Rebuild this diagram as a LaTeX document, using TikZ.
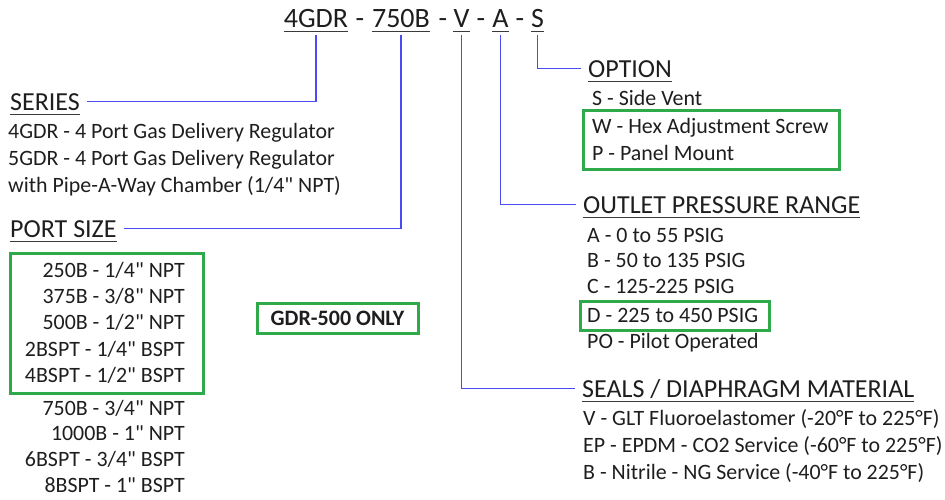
\documentclass[tikz,border=0pt]{standalone}
\usepackage{fontspec}
\setmainfont{Carlito}[Ligatures=TeXOff]
\definecolor{conn}{HTML}{4B4BF5}
\definecolor{grn}{HTML}{2EAA4A}
\definecolor{txt}{HTML}{1E1E1E}
\definecolor{ulc}{HTML}{3A3A3A}
\begin{document}
\begin{tikzpicture}[x=1pt,y=-1pt,
  every node/.style={text=txt},
  titlepart/.style={inner sep=0pt,anchor=base,text depth=0pt,font=\fontsize{28}{30}\selectfont},
  header/.style={inner xsep=7pt,inner ysep=0pt,anchor=base west,text height=17pt,text depth=0pt,font=\fontsize{26}{30}\selectfont},
  item/.style={inner sep=0pt,anchor=base west,font=\fontsize{21.9}{24}\selectfont},
  ritem/.style={item,anchor=base east},
  conn/.style={draw=conn,line width=1.6pt},
  ulline/.style={draw=ulc,line width=1.4pt},
  gbox/.style={draw=grn,line width=3pt}]
\useasboundingbox (0,0) rectangle (945,499);
% title
\node[titlepart] (tgdr) at (316,27) {4GDR};
\node[titlepart] (d1) at (360,27) {-};
\node[titlepart] (tsize) at (401,27) {750B};
\node[titlepart] (d2) at (443,27) {-};
\node[titlepart] (tseal) at (461.5,27) {V};
\node[titlepart] (d3) at (481,27) {-};
\node[titlepart] (trange) at (500.5,27) {A};
\node[titlepart] (d4) at (520,27) {-};
\node[titlepart] (topt) at (537.5,27) {S};
\foreach \n in {tgdr,tsize,tseal,trange,topt}
  \draw[ulline] ([yshift=-4.5pt]\n.south west) -- ([yshift=-4.5pt]\n.south east);
% headers
\node[header] (series) at (3,110) {SERIES};
\node[header] (portsize) at (3,237) {PORT SIZE};
\node[header] (option) at (581,77) {OPTION};
\node[header] (outlet) at (576,213) {OUTLET PRESSURE RANGE};
\node[header] (seals) at (575,397) {SEALS / DIAPHRAGM MATERIAL};
\foreach \n in {series,portsize,option,outlet,seals}
  \draw[ulline] ([xshift=7pt,yshift=-4pt]\n.south west) -- ([xshift=-7pt,yshift=-4pt]\n.south east);
% connectors
\draw[conn] ([yshift=-8pt]tgdr.south) |- (series.east);
\draw[conn] ([yshift=-8pt]tsize.south) |- (portsize.east);
\draw[conn] ([yshift=-8pt]topt.south) |- (option.west);
\draw[conn] ([yshift=-8pt]trange.south) |- (outlet.west);
\draw[conn] ([yshift=-8pt]tseal.south) |- (seals.west);
% series items
\node[item] (s1) at (8,138) {4GDR - 4 Port Gas Delivery Regulator};
\node[item] (s2) at (8,165) {5GDR - 4 Port Gas Delivery Regulator};
\node[item] (s3) at (8,192) {with Pipe-A-Way Chamber (1/4" NPT)};
% port size items
\node[ritem] (p1) at (185,277) {250B - 1/4" NPT};
\node[ritem] (p2) at (185,303) {375B - 3/8" NPT};
\node[ritem] (p3) at (185,329) {500B - 1/2" NPT};
\node[ritem] (p4) at (185,356) {2BSPT - 1/4" BSPT};
\node[ritem] (p5) at (185,382) {4BSPT - 1/2" BSPT};
\node[ritem] (p6) at (185,415) {750B - 3/4" NPT};
\node[ritem] (p7) at (185,440) {1000B - 1" NPT};
\node[ritem] (p8) at (185,466) {6BSPT - 3/4" BSPT};
\node[ritem] (p9) at (185,492) {8BSPT - 1" BSPT};
\draw[gbox] (10,253) rectangle (203,393);
\node[gbox,inner sep=0pt,minimum width=161pt,minimum height=30pt,font=\fontsize{22}{24}\selectfont\bfseries] (only) at (337.5,318) {GDR-500 ONLY};
% option items
\node[item] (o1) at (592,105) {S - Side Vent};
\node[item] (o2) at (592,133) {W - Hex Adjustment Screw};
\node[item] (o3) at (592,160) {P - Panel Mount};
\draw[gbox] (583,110) rectangle (839,169);
% outlet items
\node[item] (r1) at (587,242) {A - 0 to 55 PSIG};
\node[item] (r2) at (587,267) {B - 50 to 135 PSIG};
\node[item] (r3) at (587,293) {C - 125-225 PSIG};
\node[item] (r4) at (587,322) {D - 225 to 450 PSIG};
\node[item] (r5) at (587,348) {PO - Pilot Operated};
\draw[gbox] (580,301) rectangle (769,330);
% seals items
\node[item] (m1) at (583,425) {V - GLT Fluoroelastomer (-20°F to 225°F)};
\node[item] (m2) at (583,452) {EP - EPDM - CO2 Service (-60°F to 225°F)};
\node[item] (m3) at (583,479) {B - Nitrile - NG Service (-40°F to 225°F)};
\end{tikzpicture}
\end{document}
